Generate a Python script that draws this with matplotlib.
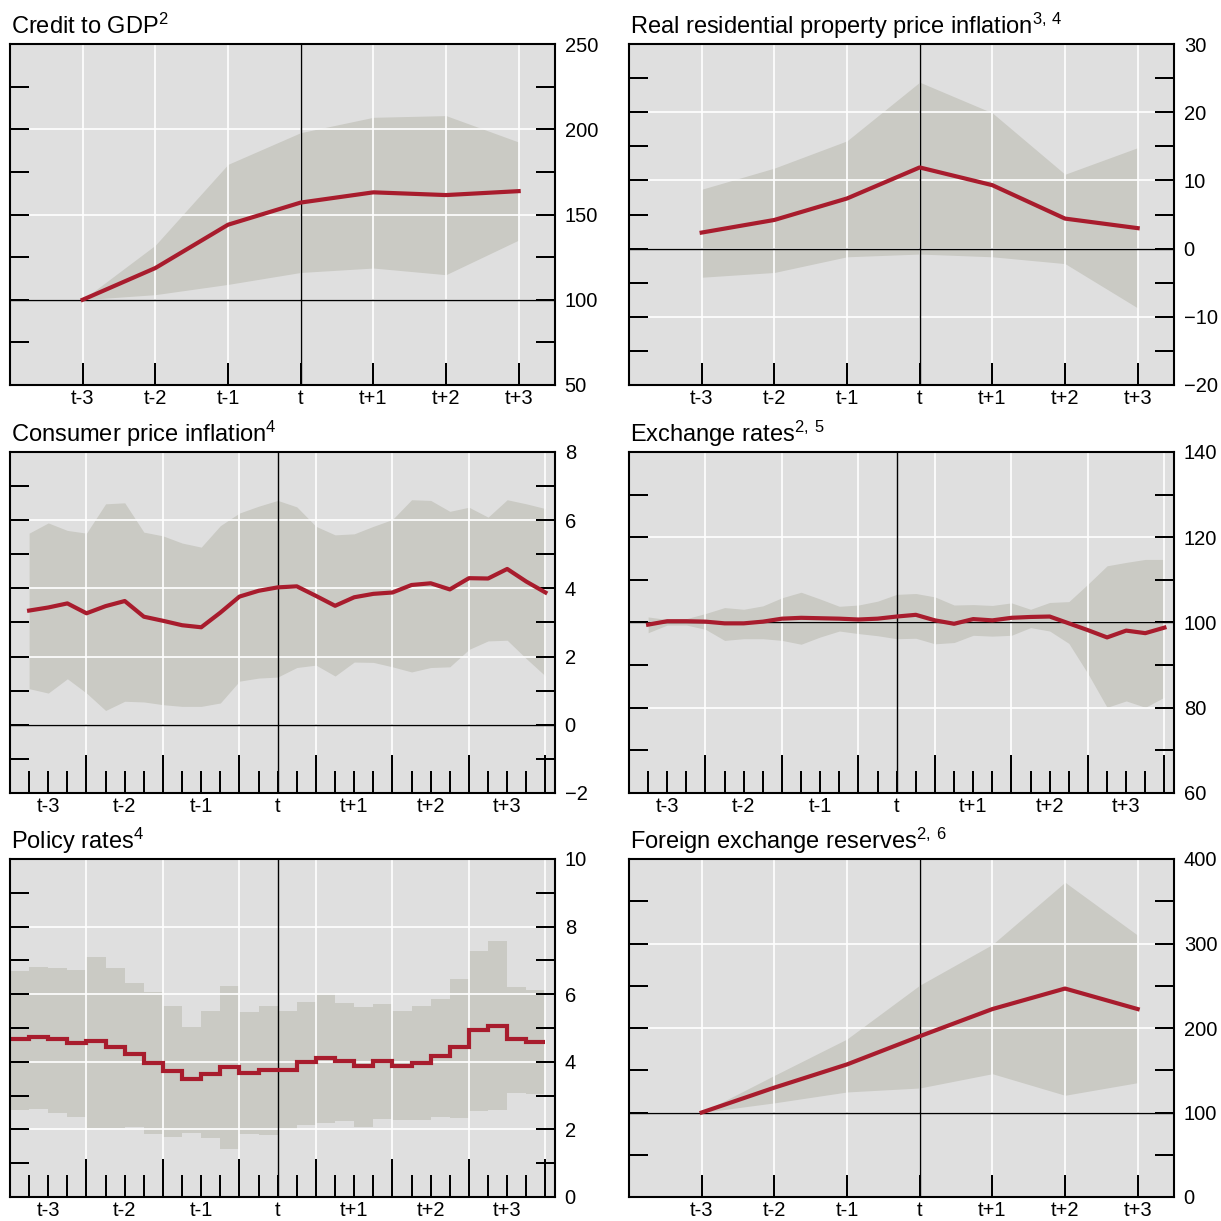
import matplotlib.pyplot as plt
import numpy as np
from matplotlib.ticker import MultipleLocator, FixedLocator, FuncFormatter, NullFormatter

plt.rcParams['font.family'] = ['Liberation Sans', 'DejaVu Sans']
plt.rcParams['mathtext.default'] = 'regular'

BG = '#dfdfdf'
BAND = '#cacac4'
RED = '#a81c2d'

years = ['t-3', 't-2', 't-1', 't', 't+1', 't+2', 't+3']
yr_x = np.arange(7)

# annual panels
credit_mid = [100, 118.6, 144, 157, 163, 161.4, 163.7]
credit_hi = [100, 132, 179.4, 198, 207, 208, 192.5]
credit_lo = [100, 103, 109, 116, 118.6, 114.7, 135]

house_mid = [2.35, 4.2, 7.35, 11.9, 9.3, 4.4, 3.0]
house_hi = [8.7, 11.8, 15.8, 24.4, 19.9, 10.9, 14.8]
house_lo = [-4.2, -3.5, -1.2, -0.8, -1.2, -2.2, -8.7]

fxres_mid = [100, 129.4, 156.9, 190.2, 222.4, 246.7, 222.4]
fxres_hi = [100, 143.9, 187, 250.6, 298.8, 372.5, 309.8]
fxres_lo = [100, 111.4, 124.3, 129, 145.9, 120.4, 135.3]

# quarterly panels (quarters relative to t)
quarters = np.arange(-13, 15)
edges = np.arange(-14, 15)

cpi_mid = [3.35, 3.44, 3.56, 3.27, 3.48, 3.63, 3.17, 3.05, 2.92, 2.86, 3.29, 3.76, 3.93, 4.03,
           4.06, 3.78, 3.49, 3.74, 3.84, 3.88, 4.10, 4.15, 3.97, 4.30, 4.29, 4.57, 4.20, 3.88]
cpi_hi = [5.62, 5.92, 5.70, 5.62, 6.48, 6.51, 5.65, 5.54, 5.33, 5.21, 5.84, 6.21, 6.41, 6.58,
          6.39, 5.82, 5.57, 5.60, 5.82, 6.02, 6.60, 6.58, 6.26, 6.38, 6.09, 6.60, 6.48, 6.34]
cpi_lo = [1.06, 0.93, 1.35, 0.93, 0.42, 0.69, 0.67, 0.59, 0.54, 0.54, 0.64, 1.28, 1.37, 1.40,
          1.68, 1.75, 1.43, 1.84, 1.83, 1.70, 1.55, 1.68, 1.70, 2.21, 2.46, 2.48, 1.94, 1.43]

fx_mid = [99.5, 100.3, 100.3, 100.2, 99.8, 99.8, 100.2, 100.9, 101.1, 101.0, 100.9, 100.7, 100.9, 101.4,
          101.8, 100.5, 99.7, 100.8, 100.5, 101.1, 101.3, 101.4, 99.8, 98.2, 96.5, 98.1, 97.5, 98.8]
fx_hi = [101.3, 100.7, 100.9, 102.1, 103.5, 103.1, 103.9, 105.8, 107.1, 105.5, 103.8, 104.1, 105.0, 106.6,
         106.8, 106.0, 104.1, 104.2, 104.0, 104.6, 103.1, 104.7, 104.9, 109.0, 113.3, 114.1, 114.8, 114.8]
fx_lo = [97.6, 99.4, 99.4, 98.4, 95.8, 96.2, 96.2, 95.8, 94.9, 96.6, 98.0, 97.4, 96.9, 96.2,
         96.3, 95.0, 95.3, 97.0, 96.8, 97.0, 98.8, 98.0, 95.1, 88.0, 80.1, 81.6, 80.1, 82.5]

policy_mid = [4.68, 4.73, 4.66, 4.56, 4.61, 4.43, 4.22, 3.96, 3.72, 3.48, 3.65, 3.86, 3.68, 3.75,
              3.76, 3.99, 4.12, 4.02, 3.89, 4.02, 3.89, 3.97, 4.16, 4.43, 4.94, 5.07, 4.68, 4.60]
policy_hi = [6.69, 6.81, 6.78, 6.72, 7.11, 6.78, 6.34, 6.07, 5.64, 5.02, 5.49, 6.23, 5.46, 5.64,
             5.51, 5.78, 6.05, 5.75, 5.61, 5.70, 5.51, 5.64, 5.86, 6.46, 7.27, 7.57, 6.22, 6.13]
policy_lo = [2.56, 2.59, 2.50, 2.38, 2.05, 2.03, 2.06, 1.85, 1.78, 1.90, 1.75, 1.43, 1.86, 1.82,
             2.01, 2.13, 2.18, 2.25, 2.06, 2.31, 2.27, 2.29, 2.37, 2.35, 2.55, 2.57, 3.08, 3.04]

W = 1221.0
fig = plt.figure(figsize=(12.21, 12.21), dpi=100)


def make_axes(left, top, h=341):
    return fig.add_axes([left / W, 1 - (top + h) / W, 545 / W, h / W])


def style(ax, title, ylim, ymajor, yminor, hline, quarterly):
    ax.set_facecolor(BG)
    ax.set_axisbelow(False)
    for s in ax.spines.values():
        s.set_linewidth(1.5)
        s.set_color('black')
        s.set_zorder(4)
    ax.set_ylim(*ylim)
    ax.yaxis.set_major_locator(MultipleLocator(ymajor))
    ax.yaxis.set_minor_locator(MultipleLocator(yminor))
    ax.yaxis.set_minor_formatter(NullFormatter())
    ax.tick_params(axis='y', which='both', direction='in', left=True, right=True,
                   labelleft=False, labelright=True, length=13.7, width=1.44,
                   pad=7.0, labelsize=14.5, colors='black')
    ax.grid(axis='y', which='major', color='white', linewidth=1.2, zorder=2)
    ax.axhline(hline, color='black', linewidth=1.0, zorder=2.6)
    if quarterly:
        ax.set_xlim(-14, 14.5)
        bounds = [-10, -6, -2, 2, 6, 10, 14]
        others = [q for q in quarters if q not in bounds]
        ax.xaxis.set_major_locator(FixedLocator(bounds))
        ax.xaxis.set_major_formatter(NullFormatter())
        ax.xaxis.set_minor_locator(FixedLocator(others))
        ax.xaxis.set_minor_formatter(FuncFormatter(
            lambda v, p: years[int(round(v)) // 4 + 3] if int(round(v)) % 4 == 0 else ''))
        ax.tick_params(axis='x', which='major', direction='in', length=27.4, width=1.44,
                       top=False, bottom=True)
        ax.tick_params(axis='x', which='minor', direction='in', length=15.8, width=1.44,
                       top=False, bottom=True, pad=2.8, labelsize=14.5)
        ax.grid(axis='x', which='major', color='white', linewidth=1.2, zorder=2)
        ax.axvline(0, color='black', linewidth=1.0, zorder=2.6)
    else:
        ax.set_xlim(-1, 6.5)
        ax.set_xticks(yr_x)
        ax.set_xticklabels(years)
        ax.tick_params(axis='x', which='major', direction='in', length=15.8, width=1.44,
                       top=False, bottom=True, pad=2.8, labelsize=14.5)
        ax.grid(axis='x', which='major', color='white', linewidth=1.2, zorder=2)
        ax.axvline(3, color='black', linewidth=1.0, zorder=2.6)
    ax.annotate(title, xy=(0, 1), xycoords='axes fraction', xytext=(0.5, 7.2),
                textcoords='offset points', ha='left', va='baseline', fontsize=17)


# Credit to GDP
ax1 = make_axes(10, 44)
ax1.fill_between(yr_x, credit_lo, credit_hi, color=BAND, linewidth=0, zorder=1)
ax1.plot(yr_x, credit_mid, color=RED, linewidth=3.0, zorder=3)
style(ax1, 'Credit to GDP$^{2}$', (50, 250), 50, 25, 100, False)

# Real residential property price inflation
ax2 = make_axes(629, 44)
ax2.fill_between(yr_x, house_lo, house_hi, color=BAND, linewidth=0, zorder=1)
ax2.plot(yr_x, house_mid, color=RED, linewidth=3.0, zorder=3)
style(ax2, 'Real residential property price inflation$^{3,\\,4}$', (-20, 30), 10, 5, 0, False)

# Consumer price inflation
ax3 = make_axes(10, 452)
ax3.fill_between(quarters, cpi_lo, cpi_hi, color=BAND, linewidth=0, zorder=1)
ax3.plot(quarters, cpi_mid, color=RED, linewidth=3.0, zorder=3)
style(ax3, 'Consumer price inflation$^{4}$', (-2, 8), 2, 1, 0, True)

# Exchange rates
ax4 = make_axes(629, 452)
ax4.fill_between(quarters, fx_lo, fx_hi, color=BAND, linewidth=0, zorder=1)
ax4.plot(quarters, fx_mid, color=RED, linewidth=3.0, zorder=3)
style(ax4, 'Exchange rates$^{2,\\,5}$', (60, 140), 20, 10, 100, True)

# Policy rates
ax5 = make_axes(10, 859, 338)
ax5.stairs(policy_hi, edges, baseline=policy_lo, fill=True, color=BAND, linewidth=0, zorder=1)
ax5.stairs(policy_mid, edges, baseline=None, color=RED, linewidth=3.0, zorder=3)
style(ax5, 'Policy rates$^{4}$', (0, 10), 2, 1, 0, True)

# Foreign exchange reserves
ax6 = make_axes(629, 859, 338)
ax6.fill_between(yr_x, fxres_lo, fxres_hi, color=BAND, linewidth=0, zorder=1)
ax6.plot(yr_x, fxres_mid, color=RED, linewidth=3.0, zorder=3)
style(ax6, 'Foreign exchange reserves$^{2,\\,6}$', (0, 400), 100, 50, 100, False)

plt.savefig('out.png', dpi=100, facecolor='white')
